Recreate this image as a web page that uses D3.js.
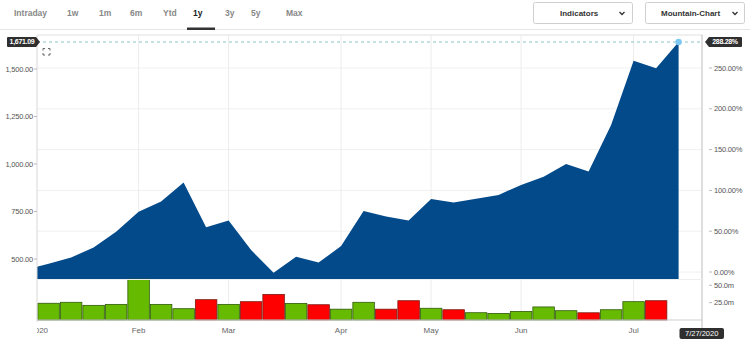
<!DOCTYPE html>
<html>
<head>
<meta charset="utf-8">
<script src="https://cdn.jsdelivr.net/npm/d3@7"></script>
<style>
  html, body { margin: 0; padding: 0; background: #fff; }
  svg { display: block; font-family: "Liberation Sans", Arial, sans-serif; }
</style>
</head>
<body>
<svg id="chart" width="750" height="345"></svg>
<script>
// ---- data (weekly points, ordinal axis; first close is the clipped prior week) ----
const tabs = ["Intraday", "1w", "1m", "6m", "Ytd", "1y", "3y", "5y", "Max"];
const activeTab = "1y";
const monthLabels = ["2020", "Feb", "Mar", "Apr", "May", "Jun", "Jul"];
const monthIndex = [-0.42, 4, 8, 13, 17, 21, 26];
const closes = [445, 475, 508, 560, 644, 749, 802, 902, 667, 702, 547, 428, 512, 481, 568,
                753, 724, 702, 816, 798, 817, 837, 890, 933, 1000, 960, 1205, 1544, 1504, 1642];
const volumes = [24.1, 25.5, 21.1, 22.5, 58.9, 22.5, 16.3, 29.3, 22.5, 26.4, 36.9, 23.9, 22.0, 15.6,
                 25.5, 15.6, 27.8, 16.9, 14.8, 10.5, 9.5, 12.4, 18.8, 13.4, 10.4, 14.8, 26.4, 27.8];
const priceTicks = [500, 750, 1000, 1250, 1500];
const pctTicks = [0, 50, 100, 150, 200, 250];
const volTicks = [25, 50];
const lastPriceLabel = "1,671.09";
const lastPctLabel = "288.28%";
const lastDateLabel = "7/27/2020";

const svg = d3.select("#chart");

// ---- scales ----
const plotL = 37, plotR = 702, plotT = 35, priceB = 279, volB = 320;
const x = d3.scaleLinear().domain([0, 28]).range([48.6, 678.6]);
const yPrice = d3.scaleLinear().domain([500, 1500]).range([259, 69]);
const yPct = d3.scaleLinear().domain([0, 250]).range([272, 68]);
const yVol = d3.scaleLinear().domain([0, 50]).range([volB, 285.3]);
const step = x(1) - x(0);

// ---- top navigation ----
const tabX = [14, 67, 99, 130, 163, 193, 225, 251, 286];
const nav = svg.append("g");
nav.selectAll("text").data(tabs).join("text")
  .attr("x", (d, i) => tabX[i]).attr("y", 15.5)
  .attr("font-size", 8.5).attr("font-weight", "bold")
  .attr("fill", d => d === activeTab ? "#222" : "#888")
  .text(d => d);
nav.append("line").attr("x1", 0).attr("x2", 750).attr("y1", 29.5).attr("y2", 29.5)
  .attr("stroke", "#e6e6e6").attr("stroke-width", 1);
nav.append("rect").attr("x", 187).attr("y", 27.5).attr("width", 28).attr("height", 2.5).attr("fill", "#333");

const buttons = [{label: "Indicators", x: 533, w: 99, tx: 560, cx: 622},
                 {label: "Mountain-Chart", x: 645, w: 99, tx: 661, cx: 735}];
buttons.forEach(b => {
  nav.append("rect").attr("x", b.x + 0.5).attr("y", 2.5).attr("width", b.w).attr("height", 21)
    .attr("rx", 2).attr("fill", "#fff").attr("stroke", "#cfcfcf");
  nav.append("text").attr("x", b.tx)
    .attr("y", 16).attr("font-size", 8).attr("font-weight", "bold").attr("fill", "#333").text(b.label);
  nav.append("path").attr("d", `M${b.cx - 2.5},${12} L${b.cx},${14.5} L${b.cx + 2.5},${12}`)
    .attr("fill", "none").attr("stroke", "#333").attr("stroke-width", 1.3);
});

// ---- gridlines ----
const grid = svg.append("g");
grid.selectAll("line.h").data(pctTicks).join("line").attr("class", "h")
  .attr("x1", plotL).attr("x2", plotR).attr("y1", d => yPct(d)).attr("y2", d => yPct(d))
  .attr("stroke", "#f0f0f0");
grid.selectAll("line.v").data(monthIndex.slice(1)).join("line").attr("class", "v")
  .attr("x1", d => x(d)).attr("x2", d => x(d)).attr("y1", plotT).attr("y2", volB)
  .attr("stroke", "#ececec");

// ---- price area ----
svg.append("clipPath").attr("id", "plotclip").append("rect")
  .attr("x", plotL).attr("y", plotT).attr("width", plotR - plotL).attr("height", priceB - plotT);
const area = d3.area().x((d, i) => x(i - 1)).y0(priceB).y1(d => yPrice(d));
svg.append("path").datum(closes).attr("d", area).attr("fill", "#034a8b")
  .attr("clip-path", "url(#plotclip)");

// ---- volume bars ----
svg.append("g").selectAll("rect").data(volumes).join("rect")
  .attr("x", (d, i) => x(i) - step / 2 + 0.5).attr("width", step - 1)
  .attr("y", d => yVol(d)).attr("height", d => volB - yVol(d))
  .attr("fill", (d, i) => closes[i + 1] < closes[i] ? "#ff0000" : "#66bb00")
  .attr("stroke", (d, i) => closes[i + 1] < closes[i] ? "#7a1a10" : "#2f5a0a")
  .attr("stroke-width", 0.8);

// ---- frame / axes lines ----
svg.append("line").attr("x1", plotL).attr("x2", plotR + 1).attr("y1", plotT).attr("y2", plotT).attr("stroke", "#e0e0e0");
svg.append("line").attr("x1", plotL).attr("x2", plotL).attr("y1", plotT).attr("y2", volB + 2).attr("stroke", "#d8d8d8");
svg.append("line").attr("x1", plotR).attr("x2", plotR).attr("y1", plotT).attr("y2", 329).attr("stroke", "#bdbdbd");
svg.append("line").attr("x1", plotL).attr("x2", plotR).attr("y1", volB).attr("y2", volB).attr("stroke", "#cfcfcf");
svg.append("line").attr("x1", plotL).attr("x2", plotR).attr("y1", priceB + 0.5).attr("y2", priceB + 0.5).attr("stroke", "#eeeeee");

// ---- left price axis ----
const fmtPrice = d3.format(",.2f");
const leftAx = svg.append("g").attr("font-size", 7.5).attr("fill", "#555");
priceTicks.forEach(t => {
  leftAx.append("text").attr("x", 33).attr("y", yPrice(t) + 2.6).attr("text-anchor", "end")
    .attr("letter-spacing", -0.2).text(fmtPrice(t));
  leftAx.append("line").attr("x1", 34).attr("x2", 37).attr("y1", yPrice(t)).attr("y2", yPrice(t)).attr("stroke", "#bbb");
});

// ---- right percent axis ----
const rightAx = svg.append("g").attr("font-size", 7.5).attr("fill", "#555");
pctTicks.forEach(t => {
  rightAx.append("text").attr("x", 714).attr("y", yPct(t) + 2.6).attr("letter-spacing", -0.2)
    .text(d3.format(".2f")(t) + "%");
  rightAx.append("line").attr("x1", 709).attr("x2", 712).attr("y1", yPct(t)).attr("y2", yPct(t)).attr("stroke", "#bbb");
});
volTicks.forEach(t => {
  rightAx.append("text").attr("x", 714).attr("y", yVol(t) + 2.6).attr("letter-spacing", -0.2)
    .text(d3.format(".1f")(t) + "m");
  rightAx.append("line").attr("x1", 709).attr("x2", 712).attr("y1", yVol(t)).attr("y2", yVol(t)).attr("stroke", "#bbb");
});

// ---- month axis ----
svg.append("clipPath").attr("id", "xclip").append("rect")
  .attr("x", plotL).attr("y", 320).attr("width", plotR - plotL).attr("height", 20);
svg.append("g").attr("clip-path", "url(#xclip)").attr("font-size", 8).attr("fill", "#666")
  .selectAll("text").data(monthLabels).join("text")
  .attr("x", (d, i) => x(monthIndex[i])).attr("y", 333).attr("text-anchor", "middle").text(d => d);

// ---- last value markers ----
const lastY = yPrice(closes[closes.length - 1]);
const lastX = x(closes.length - 2);
svg.append("line").attr("x1", plotL).attr("x2", plotR).attr("y1", lastY).attr("y2", lastY)
  .attr("stroke", "#8ec6c8").attr("stroke-dasharray", "3,3").attr("stroke-width", 1);
svg.append("circle").attr("cx", lastX).attr("cy", lastY).attr("r", 3.2).attr("fill", "#7cc8f2");

// left label
svg.append("path").attr("d", `M8,${lastY - 5} H36 L40,${lastY} L36,${lastY + 5} H8 Q7,${lastY + 5} 7,${lastY + 4} V${lastY - 4} Q7,${lastY - 5} 8,${lastY - 5} Z`)
  .attr("fill", "#2f2f2f");
svg.append("text").attr("x", 22).attr("y", lastY + 2.4).attr("text-anchor", "middle")
  .attr("font-size", 7).attr("font-weight", "bold").attr("fill", "#fff").attr("letter-spacing", -0.3).text(lastPriceLabel);
// right label
svg.append("path").attr("d", `M705,${lastY} L709,${lastY - 5} H741 Q742,${lastY - 5} 742,${lastY - 4} V${lastY + 4} Q742,${lastY + 5} 741,${lastY + 5} H709 Z`)
  .attr("fill", "#2f2f2f");
svg.append("text").attr("x", 725).attr("y", lastY + 2.4).attr("text-anchor", "middle")
  .attr("font-size", 7).attr("font-weight", "bold").attr("fill", "#fff").attr("letter-spacing", -0.3).text(lastPctLabel);

// date label
svg.append("rect").attr("x", 679.5).attr("y", 328).attr("width", 44.5).attr("height", 11).attr("rx", 2).attr("fill", "#2f2f2f");
svg.append("text").attr("x", 701.7).attr("y", 336.3).attr("text-anchor", "middle")
  .attr("font-size", 7.5).attr("fill", "#fff").text(lastDateLabel);

// expand icon
const ic = svg.append("g").attr("stroke", "#666").attr("stroke-width", 1).attr("fill", "none");
ic.append("path").attr("d", "M43,50.5 V48.5 H45 M48,48.5 H50 V50.5 M50,53 V55 H48 M45,55 H43 V53");
</script>
</body>
</html>
